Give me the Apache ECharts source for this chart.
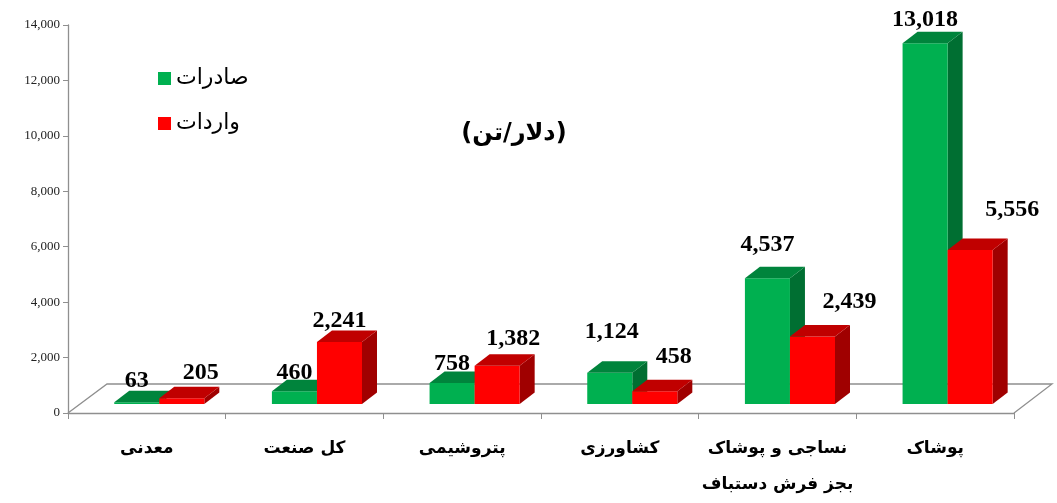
<!DOCTYPE html>
<html>
<head>
<meta charset="utf-8">
<script src="https://cdn.jsdelivr.net/npm/echarts@6/dist/echarts.min.js"></script>
<style>
	html, body { margin: 0; padding: 0; background: #fff; }
	#chart { width: 1057px; height: 503px; }
</style>
</head>
<body>
<div id="chart"></div>
<script type="text/javascript">
// categories and values
var categories = ['معدنی', 'کل صنعت', 'پتروشیمی', 'کشاورزی', 'نساجی و پوشاک\nبجز فرش دستباف', 'پوشاک'];
var exportsValues = [63, 460, 758, 1124, 4537, 13018];
var importsValues = [205, 2241, 1382, 458, 2439, 5556];
var seriesNames = ['صادرات', 'واردات'];

// label nudges (px), the source places some labels by hand
var exportLabelShift = [0, 0, 0, 2, 0, 0];
var exportLabelLift = [2, -1, 0, 22, 14, 4];
var importLabelShift = [19, 0, 16, 19, 37, 42];
var importLabelLift = [6, 2, 7, 15, 15, 21];

var BASE_LIFT = 9;   // bars stand a bit behind the front edge
var DEPTH_X = 15, DEPTH_Y = 11.5;

function fmt(n) {
	return n.toLocaleString('en-US');
}

// one 3D bar: front face, top face, right side, value label
function makeBar(side, shifts, lifts, colors) {
	return function (params, api) {
		var idx = api.value(0);
		var v = api.value(1);
		var base = api.coord([idx, 0]);
		var top = api.coord([idx, v]);
		var bw = api.size([1, 0])[0];
		var w = bw * 0.2857;
		var shift = bw * 0.079;
		var x0 = base[0] + shift + (side === 0 ? -w : 0);
		var x1 = x0 + w;
		var yb = base[1] - BASE_LIFT;
		var yt = top[1] - BASE_LIFT;
		return {
			type: 'group',
			children: [
				{
					type: 'polygon',
					shape: { points: [[x1, yt], [x1 + DEPTH_X, yt - DEPTH_Y], [x1 + DEPTH_X, yb - DEPTH_Y], [x1, yb]] },
					style: { fill: colors[2] }
				},
				{
					type: 'rect',
					shape: { x: x0, y: yt, width: w, height: yb - yt },
					style: { fill: colors[0] }
				},
				{
					type: 'polygon',
					shape: { points: [[x0, yt], [x1, yt], [x1 + DEPTH_X, yt - DEPTH_Y], [x0 + DEPTH_X, yt - DEPTH_Y]] },
					style: { fill: colors[1] }
				},
				{
					type: 'text',
					z2: 10,
					style: {
						text: fmt(v),
						x: (x0 + x1) / 2 + shifts[idx],
						y: yt - DEPTH_Y - lifts[idx] - 8,
						align: 'center',
						verticalAlign: 'middle',
						font: 'bold 24px "Liberation Serif"',
						fill: '#000'
					}
				}
			]
		};
	};
}

// floor outline under the bars
function renderFloor(params, api) {
	var bw = api.size([1, 0])[0];
	var first = api.coord([0, 0]);
	var last = api.coord([categories.length - 1, 0]);
	var L = first[0] - bw / 2, R = last[0] + bw / 2, y = first[1];
	return {
		type: 'polyline',
		shape: { points: [[L, y], [L + 39, y - 29], [R + 38, y - 29], [R, y]] },
		style: { stroke: '#8f8f8f', lineWidth: 1.3, fill: null }
	};
}

var myChart = echarts.init(document.getElementById('chart'));
var options = {
	animation: false,
	grid: { left: 68, right: 43, top: 25, bottom: 90 },
	legend: {
		orient: 'vertical',
		left: 153,
		top: 62,
		itemWidth: 13,
		itemHeight: 13,
		itemGap: 22,
		icon: 'rect',
		data: seriesNames,
		textStyle: { fontFamily: 'DejaVu Sans', fontSize: 22, color: '#000', lineHeight: 23 }
	},
	graphic: [{
		type: 'text',
		x: 514,
		y: 134,
		style: {
			text: '(دلار/تن)',
			font: 'bold 24px "DejaVu Sans"',
			fill: '#000',
			align: 'center',
			verticalAlign: 'middle'
		}
	}],
	xAxis: {
		type: 'category',
		data: categories,
		axisLine: { lineStyle: { color: '#8f8f8f', width: 1.3 } },
		axisTick: { show: true, interval: 0, length: 6, lineStyle: { color: '#8f8f8f' } },
		axisLabel: {
			interval: 0,
			margin: 18,
			fontFamily: 'DejaVu Sans',
			fontWeight: 'bold',
			fontSize: 17,
			lineHeight: 36,
			color: '#000'
		}
	},
	yAxis: {
		type: 'value',
		min: 0,
		max: 14000,
		interval: 2000,
		splitLine: { show: false },
		axisLine: { show: true, lineStyle: { color: '#8f8f8f', width: 1.3 } },
		axisTick: { show: true, length: 5, lineStyle: { color: '#8f8f8f' } },
		axisLabel: {
			fontFamily: 'Liberation Serif',
			fontSize: 13,
			color: '#222',
			margin: 8,
			formatter: function (v) { return fmt(v); }
		}
	},
	series: [
		{
			name: 'floor',
			type: 'custom',
			z: 1,
			silent: true,
			data: [[0, 0]],
			renderItem: renderFloor
		},
		{
			name: seriesNames[0],
			type: 'custom',
			z: 2,
			itemStyle: { color: '#00B050' },
			data: exportsValues.map(function (v, i) { return [i, v]; }),
			renderItem: makeBar(0, exportLabelShift, exportLabelLift, ['#00B050', '#00843C', '#006F32'])
		},
		{
			name: seriesNames[1],
			type: 'custom',
			z: 3,
			itemStyle: { color: '#FF0000' },
			data: importsValues.map(function (v, i) { return [i, v]; }),
			renderItem: makeBar(1, importLabelShift, importLabelLift, ['#FF0000', '#C00000', '#A00000'])
		}
	]
};
myChart.setOption(options);
</script>
</body>
</html>
